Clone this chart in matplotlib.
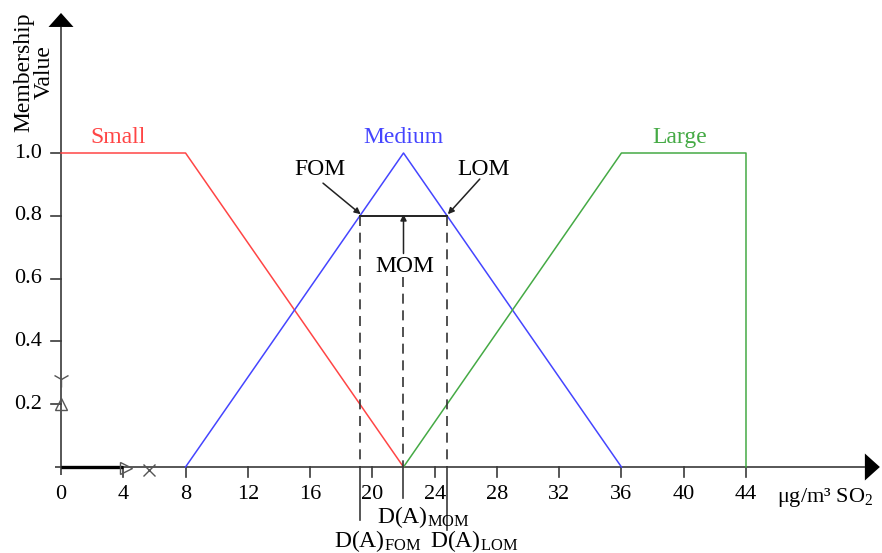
import matplotlib
matplotlib.use("Agg")
import matplotlib.pyplot as plt
from matplotlib.patches import Polygon

plt.rcParams['font.family'] = ['Liberation Serif', 'DejaVu Serif']
plt.rcParams['mathtext.fontset'] = 'custom'
plt.rcParams['mathtext.rm'] = 'Liberation Serif'
plt.rcParams['mathtext.it'] = 'Liberation Serif:italic'

# ---- data ----
small_x = [0, 8, 22]
small_y = [1.0, 1.0, 0.0]
medium_x = [8, 22, 36]
medium_y = [0.0, 1.0, 0.0]
large_x = [22, 36, 44, 44]
large_y = [0.0, 1.0, 1.0, 0.0]

x_ticks = [0, 4, 8, 12, 16, 20, 24, 28, 32, 36, 40, 44]
y_ticks = [0.2, 0.4, 0.6, 0.8, 1.0]
y_tick_labels = ['0.2', '0.4', '0.6', '0.8', '1.0']

alpha_cut = 0.8
fom = 19.2
mom = 22.0
lom = 24.8

RED = '#ff4545'
BLUE = '#4545ff'
GREEN = '#45aa45'
AX = '#3a3a3a'

# ---- figure / scale ----
PX = 15.568   # pixels per x unit
PY = 314.0    # pixels per y unit
X0, Y0 = 61, 467
W, H = 882, 553

fig = plt.figure(figsize=(W / 100, H / 100), dpi=100)
ax = fig.add_axes([0, 0, 1, 1])
ax.set_xlim(-X0 / PX, (W - X0) / PX)
ax.set_ylim((Y0 - H) / PY, Y0 / PY)
ax.axis('off')

dx = 1 / PX  # one pixel in x units
dy = 1 / PY  # one pixel in y units

# axes lines with arrows
ax.plot([-6 * dx, 52.6 - 15 * dx], [0, 0], color=AX, lw=1.2, solid_capstyle='butt')
ax.add_patch(Polygon([[52.6, 0], [52.6 - 15 * dx, 13.5 * dy], [52.6 - 15 * dx, -13.5 * dy]],
                     closed=True, color='black', lw=0))
ytop = 1.446
ax.plot([0, 0], [-8 * dy, ytop - 14 * dy], color=AX, lw=1.2, solid_capstyle='butt')
ax.add_patch(Polygon([[0, ytop], [-12.5 * dx, ytop - 14 * dy], [12.5 * dx, ytop - 14 * dy]],
                     closed=True, color='black', lw=0))

# ticks
for t in x_ticks:
    if t != 0:
        ax.plot([t, t], [0, -10 * dy], color=AX, lw=1.2)
    ax.text(t, -0.103, str(t), ha='center', va='baseline', fontsize=16)
for t, lab in zip(y_ticks, y_tick_labels):
    ax.plot([0, -10 * dx], [t, t], color=AX, lw=1.2)
    ax.text(-1.2, t, lab, ha='right', va='center', fontsize=16)

# axis titles
ax.text(-1.75, (Y0 - 72) / PY, 'Membership\nValue', rotation=90, ha='center', va='center',
        fontsize=17, linespacing=0.95)
ax.text(45.99, -0.111, r'μg/m³ SO$_{2}$', ha='left', va='baseline', fontsize=16)

# membership functions
ax.plot(small_x, small_y, color=RED, lw=1.1)
ax.plot(medium_x, medium_y, color=BLUE, lw=1.1)
ax.plot(large_x, large_y, color=GREEN, lw=1.1)

ax.text(3.66, 1.048, 'Small', color=RED, ha='center', va='center', fontsize=17)
ax.text(21.97, 1.048, 'Medium', color=BLUE, ha='center', va='center', fontsize=17)
ax.text(39.76, 1.048, 'Large', color=GREEN, ha='center', va='center', fontsize=17)

# alpha cut line
ax.plot([fom, lom], [alpha_cut, alpha_cut], color='#222222', lw=1.4)

# dashed verticals
dash = dict(color='#333333', lw=1.2, dashes=(6, 4))
ax.plot([fom, fom], [alpha_cut, 0], **dash)
ax.plot([lom, lom], [alpha_cut, 0], **dash)
ax.plot([mom, mom], [0.605, 0], **dash)

# solid lines below axis
ax.plot([fom, fom], [0, -0.169], color=AX, lw=1.2)
ax.plot([mom, mom], [0, -0.099], color=AX, lw=1.2)
ax.plot([lom, lom], [0, -0.2], color=AX, lw=1.2)

# annotations
arr = dict(arrowstyle='-|>', color='#222222', lw=1.1, mutation_scale=9, shrinkA=0, shrinkB=0)
ax.annotate('', xy=(fom + 0.05, alpha_cut + 0.005), xytext=(16.83, 0.904), arrowprops=arr)
ax.annotate('', xy=(lom + 0.05, alpha_cut + 0.005), xytext=(26.9, 0.917), arrowprops=arr)
ax.annotate('', xy=(mom, alpha_cut + 0.005), xytext=(mom, 0.68), arrowprops=arr)
ax.text(16.64, 0.946, 'FOM', ha='center', va='center', fontsize=17)
ax.text(27.17, 0.946, 'LOM', ha='center', va='center', fontsize=17)
ax.text(22.1, 0.64, 'MOM', ha='center', va='center', fontsize=17)

ax.text(20.36, -0.256, r'D(A)$_{\rm FOM}$', ha='center', va='baseline', fontsize=17)
ax.text(23.25, -0.18, r'D(A)$_{\rm MOM}$', ha='center', va='baseline', fontsize=17)
ax.text(26.56, -0.256, r'D(A)$_{\rm LOM}$', ha='center', va='baseline', fontsize=17)

# stray marker artifacts near origin
ax.plot([0, 4], [0, 0], color='black', lw=2.4, solid_capstyle='butt')
ax.plot([4.17], [-0.003], marker='>', ms=8, mfc='none', mec='#555555', mew=1.0)
ax.plot([5.65], [-0.01], marker='x', ms=8, color='#555555', mew=1.0)
ax.plot([0], [0.28], marker='1', ms=12, color='#555555', mew=1.0)
ax.plot([0], [0.2], marker='^', ms=8, mfc='none', mec='#555555', mew=1.0)

fig.savefig('out.png', dpi=100)
